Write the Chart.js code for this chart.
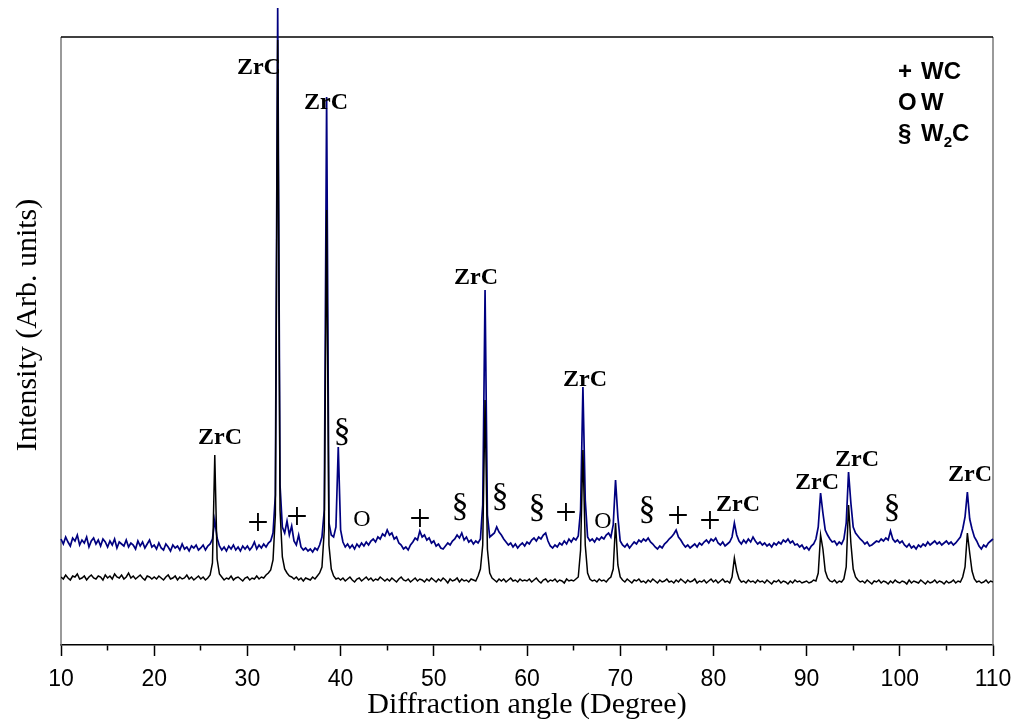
<!DOCTYPE html>
<html>
<head>
<meta charset="utf-8">
<title>XRD pattern</title>
<script src="https://cdn.jsdelivr.net/npm/chart.js@4.4.0/dist/chart.umd.min.js"></script>
<style>
  html, body { margin: 0; padding: 0; background: #fff; }
</style>
</head>
<body>
<canvas id="canvas" width="1019" height="721"></canvas>
<script>
// scan grid: 2-theta from 10 to 110 deg, one reading every 0.25 deg
const angleStart = 10;
const angleStep = 0.25;

// lower trace (black), 20 readings per row = 5 degrees per row
const blackVals = [
  68,66,70,67,65,69,68,71,66,67,69,65,68,70,67,66,69,68,65,70,
  67,69,66,71,68,67,70,66,68,72,67,69,66,68,70,67,65,69,68,66,
  68,66,69,67,65,68,70,66,67,69,65,68,66,67,70,66,68,65,67,69,
  66,68,65,67,70,82,190,86,71,68,65,67,66,69,65,67,68,66,64,67,
  68,65,67,66,69,66,68,67,70,72,75,85,130,605,135,88,76,72,69,68,
  66,68,65,67,64,67,66,65,68,66,69,72,78,115,435,100,76,69,66,67,
  65,67,64,66,68,65,63,66,67,64,66,68,65,67,64,66,65,68,66,64,
  66,64,67,65,63,66,68,65,64,66,63,65,67,64,66,65,63,66,64,67,
  65,63,66,64,67,65,62,66,64,65,67,63,66,64,65,63,66,65,64,69,
  76,100,245,96,72,67,65,63,66,64,66,63,65,67,64,65,63,66,64,65,
  64,66,63,65,67,64,62,65,66,63,65,64,66,63,65,64,62,66,64,65,
  64,66,68,95,195,100,72,66,64,65,63,66,64,65,63,66,68,76,122,80,
  68,65,63,66,64,62,65,64,66,63,64,62,65,63,66,64,62,65,63,64,
  66,63,64,62,65,63,66,64,62,65,63,64,66,62,64,63,65,62,64,66,
  63,65,62,64,66,63,64,62,68,87,74,66,63,64,62,65,63,64,62,65,
  63,64,62,65,63,61,64,63,65,62,64,63,61,64,62,65,63,64,62,63,
  64,62,63,65,64,72,110,96,74,67,64,63,65,62,64,63,66,78,140,102,
  76,68,65,63,64,62,65,63,61,64,63,65,62,64,63,61,64,62,65,63,
  62,64,63,61,65,62,64,63,62,65,63,61,64,62,63,65,62,64,63,61,
  64,62,63,65,62,64,63,68,78,112,92,74,66,63,64,62,63,65,62,64,
  63
];

// upper trace (navy)
const blueVals = [
  106,101,108,103,99,107,104,110,100,105,102,108,98,104,107,101,105,99,106,103,
  98,104,100,106,97,103,101,99,105,98,102,100,96,104,99,103,97,101,105,98,
  100,96,102,97,95,101,98,94,100,97,99,95,101,96,98,94,99,97,100,95,
  97,100,95,99,101,106,125,107,99,95,98,94,99,96,100,95,98,94,99,96,
  99,95,98,103,96,100,97,101,98,102,104,112,150,637,160,118,112,124,110,119,
  104,100,110,98,95,97,94,96,93,97,95,100,108,135,548,122,110,108,118,198,
  115,103,98,101,97,100,96,101,98,102,99,103,100,104,106,103,108,106,111,109,
  115,110,112,106,108,102,100,96,98,95,100,103,107,105,114,108,110,105,107,102,
  104,99,101,97,96,99,102,100,104,106,110,107,112,105,108,103,105,101,104,102,
  106,140,355,130,108,110,112,118,113,110,106,103,100,102,98,101,97,100,102,99,
  103,101,105,107,104,108,106,110,112,104,99,97,100,98,102,100,104,101,106,103,
  107,105,109,135,258,145,108,104,106,103,107,105,108,106,110,112,108,120,165,128,
  104,100,98,101,97,100,103,101,105,103,106,104,107,103,101,98,96,99,97,101,
  103,106,108,111,115,108,105,101,98,100,97,99,101,98,102,100,103,105,102,106,
  104,107,102,100,103,99,101,103,108,122,110,104,101,105,102,106,103,108,104,101,
  103,100,102,99,101,98,102,100,103,101,105,103,106,102,104,100,101,98,100,96,
  98,95,99,101,106,118,152,132,115,110,106,103,104,100,103,101,106,122,173,142,
  118,112,109,106,104,101,103,99,100,102,104,103,106,104,107,105,114,106,103,105,
  102,104,100,98,101,97,99,96,100,98,101,99,103,100,102,104,101,103,100,102,
  104,101,103,100,102,105,108,116,128,153,126,116,108,104,99,96,100,98,102,104,
  106
];

const tickLabels = [10, 20, 30, 40, 50, 60, 70, 80, 90, 100, 110];

// peak labels: where they sit in (angle, intensity)
const zrcAngles = [27.06, 31.24, 38.43, 54.53, 66.22, 82.64, 91.12, 95.41, 107.53];
const zrcLevels = [207, 577, 542, 367, 265, 140, 162, 185, 170];
const plusAngles = [31.14, 35.32, 48.52, 64.18, 76.2, 79.64];
const plusLevels = [120, 126, 124, 130, 127, 122];
const sectAngles = [40.15, 52.81, 57.1, 61.07, 72.88, 99.16];
const sectLevels = [213, 138, 148, 137, 135, 137];
const oAngles = [42.3, 68.15];
const oLevels = [125, 123];

// key in the top right corner
const keySymbols = ['+', 'O', '§'];
const keyNames = ['WC', 'W', 'W'];

function toPoints(vals){
    const pts = [];
    vals.forEach((v, i) => {
        pts.push({x: angleStart + i * angleStep, y: v});
    });
    return pts;
}

const serif = '"Liberation Serif", "Times New Roman", serif';
const sans = '"Liberation Sans", Arial, sans-serif';

const decor = {
    id: 'decor',
    beforeDatasetsDraw(chart){
        const ctx = chart.ctx;
        const a = chart.chartArea;
        ctx.save();
        // grey left/right sides, black top
        ctx.strokeStyle = '#7a7a7a';
        ctx.lineWidth = 1.5;
        ctx.beginPath();
        ctx.moveTo(a.left, a.top); ctx.lineTo(a.left, a.bottom);
        ctx.moveTo(a.right, a.top); ctx.lineTo(a.right, a.bottom);
        ctx.stroke();
        ctx.strokeStyle = '#000';
        ctx.beginPath();
        ctx.moveTo(a.left, a.top); ctx.lineTo(a.right, a.top);
        ctx.stroke();
        ctx.restore();
    },
    afterDatasetsDraw(chart){
        const ctx = chart.ctx;
        const xs = chart.scales.x, ys = chart.scales.y;
        ctx.save();
        ctx.fillStyle = '#000';
        ctx.textAlign = 'center';
        ctx.textBaseline = 'middle';

        ctx.font = 'bold 24px ' + serif;
        zrcAngles.forEach((ang, i) => {
            ctx.fillText('ZrC', xs.getPixelForValue(ang), ys.getPixelForValue(zrcLevels[i]));
        });
        ctx.font = '38px ' + serif;
        plusAngles.forEach((ang, i) => {
            ctx.fillText('+', xs.getPixelForValue(ang), ys.getPixelForValue(plusLevels[i]));
        });
        ctx.font = '34px ' + serif;
        sectAngles.forEach((ang, i) => {
            ctx.fillText('§', xs.getPixelForValue(ang), ys.getPixelForValue(sectLevels[i]));
        });
        ctx.font = '24px ' + serif;
        oAngles.forEach((ang, i) => {
            ctx.fillText('O', xs.getPixelForValue(ang), ys.getPixelForValue(oLevels[i]));
        });

        // key
        ctx.textAlign = 'left';
        ctx.textBaseline = 'alphabetic';
        const kx = 898, ky = [79, 110, 141];
        keySymbols.forEach((s, i) => {
            ctx.font = 'bold 24px ' + sans;
            ctx.fillText(s, kx, ky[i]);
            ctx.fillText(keyNames[i], kx + 23, ky[i]);
            if (i === 2) {
                const w = ctx.measureText(keyNames[i]).width;
                ctx.font = 'bold 15px ' + sans;
                ctx.fillText('2', kx + 23 + w, ky[i] + 6);
                const w2 = ctx.measureText('2').width;
                ctx.font = 'bold 24px ' + sans;
                ctx.fillText('C', kx + 23 + w + w2, ky[i]);
            }
        });

        // y axis title
        ctx.translate(28, 325);
        ctx.rotate(-Math.PI / 2);
        ctx.textAlign = 'center';
        ctx.textBaseline = 'middle';
        ctx.font = '30px ' + serif;
        ctx.fillText('Intensity (Arb. units)', 0, 0);
        ctx.restore();
    }
};

const ctx = document.getElementById('canvas').getContext('2d');
const myChart = new Chart(ctx, {
    type: 'line',
    data: {
        datasets: [{
            label: 'black',
            data: toPoints(blackVals),
            borderColor: '#000000',
            borderWidth: 1.5,
            pointRadius: 0,
            tension: 0
        }, {
            label: 'navy',
            data: toPoints(blueVals),
            borderColor: '#000080',
            borderWidth: 1.7,
            pointRadius: 0,
            tension: 0,
            clip: false // the big peak at 33 deg runs past the frame
        }]
    },
    options: {
        responsive: false,
        animation: false,
        layout: { padding: { left: 61, right: 26, top: 37, bottom: 0 } },
        plugins: {
            legend: { display: false },
            tooltip: { enabled: false }
        },
        scales: {
            x: {
                type: 'linear',
                min: 10,
                max: 110,
                afterFit: (scale) => {
                    scale.height = 76;
                    // layout padding already leaves room for the end labels
                    scale.paddingLeft = 0;
                    scale.paddingRight = 0;
                },
                ticks: {
                    stepSize: 5,
                    autoSkip: false,
                    maxRotation: 0,
                    padding: 10,
                    color: '#000',
                    font: { family: sans, size: 23 },
                    callback: (v) => tickLabels.includes(v) ? String(v) : ''
                },
                grid: {
                    drawOnChartArea: false,
                    drawTicks: true,
                    tickLength: 11,
                    tickColor: '#000',
                    tickWidth: 1.5,
                    tickBorderDash: (c) => (c.tick && tickLabels.includes(c.tick.value)) ? [] : [5, 30]
                },
                border: { display: true, color: '#000', width: 1.5 },
                title: {
                    display: true,
                    text: 'Diffraction angle (Degree)',
                    color: '#000',
                    font: { family: serif, size: 30, lineHeight: 1.05 },
                    padding: { top: 0, bottom: 0 }
                }
            },
            y: {
                display: false,
                min: 0,
                max: 608
            }
        }
    },
    plugins: [decor]
});
</script>
</body>
</html>
